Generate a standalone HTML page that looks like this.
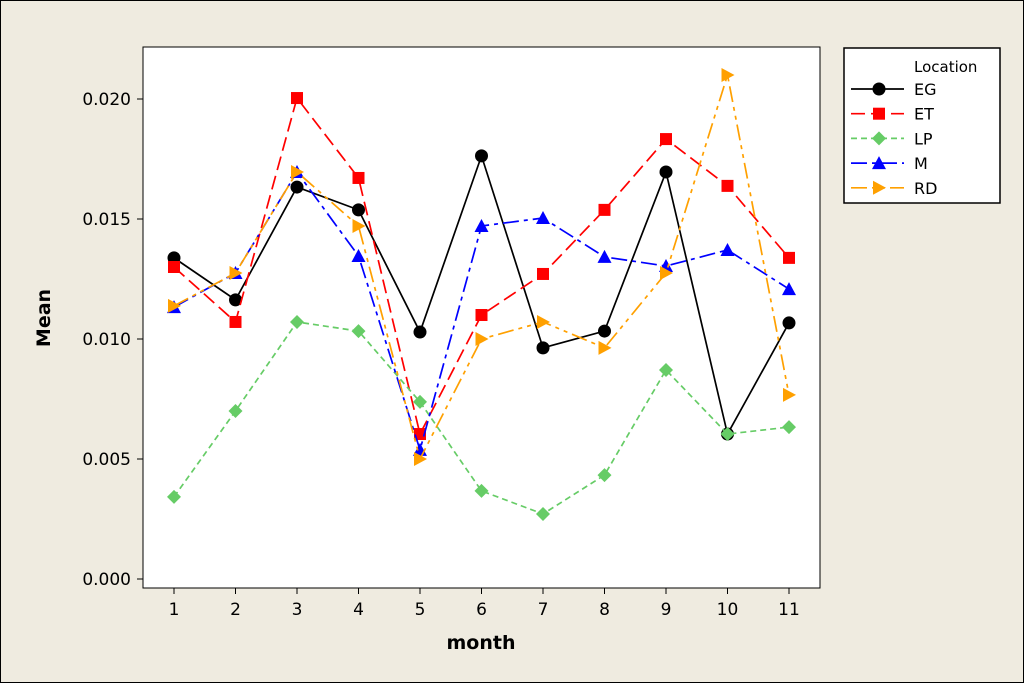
<!DOCTYPE html>
<html><head><meta charset="utf-8"><style>
body{margin:0;background:#efebe0;}
svg{display:block;font-family:"DejaVu Sans","Liberation Sans",sans-serif;}
</style></head><body>
<svg id="c" width="1024" height="683">
<rect x="0.5" y="0.5" width="1023" height="682" fill="#efebe0" stroke="#000"/>
<rect x="143" y="47" width="677" height="541" fill="#fff" stroke="#000"/>
<g id="axes"></g><g id="series"></g>
<text x="481" y="649" font-size="19" font-weight="bold" text-anchor="middle">month</text>
<text transform="translate(50,318) rotate(-90)" font-size="19" font-weight="bold" text-anchor="middle">Mean</text>
<g>
<rect x="844" y="48" width="156" height="155" fill="#fff" stroke="#000" stroke-width="1.5"/>
<text x="914" y="72" font-size="15">Location</text>
<g id="leg"></g>
</g>
</svg>
<script>
const months=[1,2,3,4,5,6,7,8,9,10,11];
const yTicks=[0,0.005,0.010,0.015,0.020];
const yTickLabels=["0.000","0.005","0.010","0.015","0.020"];
const seriesNames=["EG","ET","LP","M","RD"];
const EG=[0.01338,0.01163,0.01633,0.01538,0.01029,0.01763,0.00963,0.01033,0.01696,0.00604,0.01067];
const ET=[0.0130,0.01071,0.02004,0.01671,0.00604,0.0110,0.01271,0.01538,0.01833,0.01638,0.01338];
const LP=[0.00342,0.0070,0.01071,0.01033,0.00738,0.00367,0.00271,0.00433,0.00871,0.00604,0.00633];
const M=[0.01133,0.01275,0.01696,0.01346,0.00538,0.01471,0.01504,0.01342,0.01304,0.01371,0.01208];
const RD=[0.01138,0.01275,0.01696,0.01471,0.0050,0.0100,0.01071,0.00963,0.01275,0.0210,0.00767];
const NS="http://www.w3.org/2000/svg";
const X=m=>174+(m-1)*61.5, Y=v=>579-v*24000;
function mk(t,a,p){const e=document.createElementNS(NS,t);for(const k in a)e.setAttribute(k,a[k]);p.appendChild(e);return e;}
const ax=document.getElementById('axes');
yTicks.forEach((v,i)=>{
 const l=mk('line',{x1:137,x2:143,y1:Y(v),y2:Y(v),stroke:'#000'},ax);
 
 
 const t=mk('text',{x:131,y:Y(v)+6,'font-size':17,'text-anchor':'end'},ax);t.textContent=yTickLabels[i];
 
 
});
months.forEach(m=>{
 const l=mk('line',{x1:X(m),x2:X(m),y1:588,y2:594,stroke:'#000'},ax);
 
 
 const t=mk('text',{x:X(m),y:615,'font-size':17,'text-anchor':'middle'},ax);t.textContent=m;
 
 
});
const styles=[
 {d:EG,c:'#000',dash:'none',m:'circle'},
 {d:ET,c:'#f00',dash:'14,6',m:'square'},
 {d:LP,c:'#66cc66',dash:'6,4',m:'diamond'},
 {d:M,c:'#00f',dash:'16,5,4,5',m:'tri'},
 {d:RD,c:'#ffa000',dash:'16,5,4,5,4,5',m:'right'}];
function marker(type,x,y,c,p){
 let e;
 if(type==='circle')e=mk('circle',{cx:x,cy:y,r:6.5,fill:c},p);
 else if(type==='square')e=mk('rect',{x:x-6,y:y-6,width:12,height:12,fill:c},p);
 else if(type==='diamond')e=mk('polygon',{points:`${x},${y-7} ${x+7},${y} ${x},${y+7} ${x-7},${y}`,fill:c},p);
 else if(type==='tri')e=mk('polygon',{points:`${x},${y-7} ${x+7},${y+6} ${x-7},${y+6}`,fill:c},p);
 else e=mk('polygon',{points:`${x-6},${y-7} ${x+7},${y} ${x-6},${y+7}`,fill:c},p);
 return e;
}
const sg=document.getElementById('series'),lg=document.getElementById('leg');
styles.forEach((s,i)=>{
 const g=mk('g',{},sg);
 
 
 const pl=mk('polyline',{points:s.d.map((v,j)=>X(months[j])+','+Y(v)).join(' '),fill:'none',stroke:s.c,'stroke-width':1.7,'stroke-dasharray':s.dash},g);
 
 
 s.d.forEach((v,j)=>{const e=marker(s.m,X(months[j]),Y(v),s.c,g);
  
  });
 const ly=89+i*24.7;
 const le=mk('g',{},lg);
 
 
 mk('line',{x1:851,x2:904,y1:ly,y2:ly,stroke:s.c,'stroke-width':1.7,'stroke-dasharray':s.dash},le);
 marker(s.m,879,ly,s.c,le);
 const t=mk('text',{x:914,y:ly+6,'font-size':16},le);t.textContent=seriesNames[i];
});
</script>
</body></html>
